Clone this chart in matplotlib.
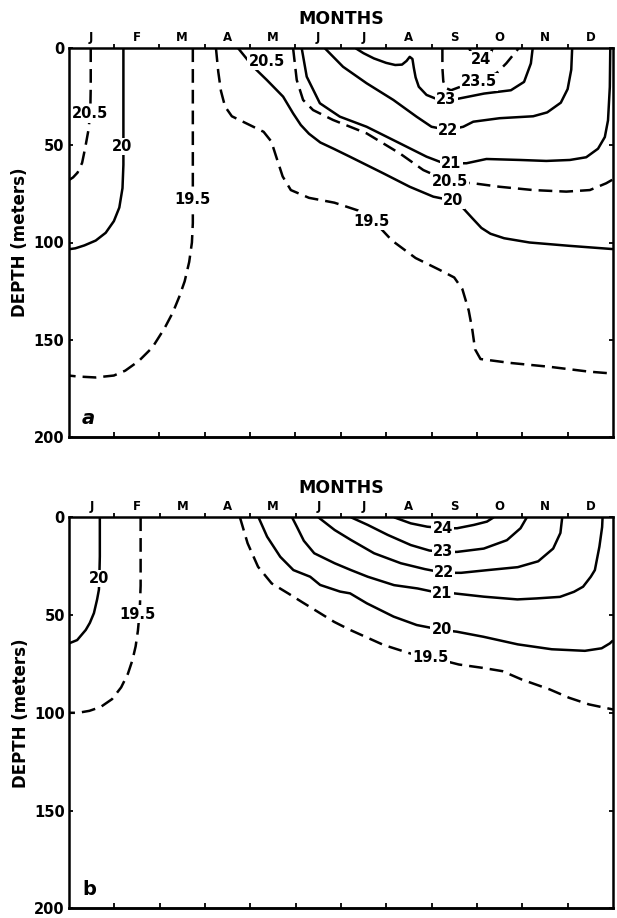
import matplotlib
matplotlib.use("Agg")
import matplotlib.pyplot as plt

plt.rcParams['font.family'] = ['DejaVu Sans']
plt.rcParams['font.weight'] = 'bold'

MONTH_LABELS = ['J', 'F', 'M', 'A', 'M', 'J', 'J', 'A', 'S', 'O', 'N', 'D']
DEPTH_TICKS = [0, 50, 100, 150, 200]

# isotherms: x in months from 1 Jan, depth in metres
# panel a
A_205_JAN_X = [0.49, 0.49, 0.48, 0.44, 0.37, 0.30, 0.20, 0.10, 0.0]
A_205_JAN_D = [0, 20, 33, 42, 51, 59, 64, 66.5, 68]
A_20_JAN_X = [1.21, 1.21, 1.21, 1.19, 1.12, 1.0, 0.82, 0.6, 0.35, 0.15, 0.0]
A_20_JAN_D = [0, 30, 60, 72, 82, 89, 95, 99, 101.5, 103, 103.5]
A_195_MAR_X = [2.74, 2.74, 2.74, 2.72, 2.66, 2.56, 2.44, 2.30, 2.12, 1.85, 1.55, 1.25, 1.0, 0.6, 0.2, 0.0]
A_195_MAR_D = [0, 40, 90, 100, 110, 120, 128, 136, 144, 154, 161, 166, 168.5, 169.5, 169, 168.5]
A_195_X = [3.25, 3.30, 3.36, 3.45, 3.60, 3.95, 4.30, 4.47, 4.58, 4.72, 4.90, 5.30, 5.86, 6.38, 6.71,
           6.85, 7.13, 7.65, 8.17, 8.50, 8.68, 8.82, 8.90, 8.96, 9.08, 9.73, 10.6, 11.47, 12.0]
A_195_D = [0, 12, 22, 30, 35, 39, 43, 48, 56, 66, 73, 77, 79.5, 83.5, 89.5,
           92, 99, 108, 114, 118, 124, 135, 145, 155, 160, 162, 164, 166.5, 167.5]
A_20_X = [3.74, 4.07, 4.37, 4.73, 4.95, 5.12, 5.30, 5.55, 5.85, 6.20, 6.94, 7.52, 8.04, 8.48, 8.70,
          8.90, 9.10, 9.30, 9.60, 10.16, 11.03, 12.0]
A_20_D = [0, 9.5, 16.3, 24.9, 33.5, 39.5, 44.0, 48.5, 51.8, 55.8, 64.4, 71.3, 76.4, 78.5, 82.4,
          87.5, 92.5, 95.5, 97.8, 100, 101.7, 103.4]
A_205_X = [4.95, 5.03, 5.17, 5.39, 5.83, 6.57, 7.30, 7.82, 8.40, 8.92, 9.50, 10.24, 10.97, 11.49, 11.85, 12.0]
A_205_D = [0, 16.3, 26.6, 31.8, 36.9, 43.8, 54.1, 62.7, 68.7, 69.5, 71.3, 73, 73.8, 73, 69.5, 67.5]
A_21_X = [5.14, 5.25, 5.54, 5.98, 6.57, 7.30, 7.89, 8.18, 8.44, 8.77, 9.21, 9.95, 10.53, 11.05,
          11.41, 11.67, 11.82, 11.89, 11.93, 11.94]
A_21_D = [0, 14.6, 28.3, 35.2, 40.4, 48.9, 55.8, 58.4, 59.2, 59.2, 57, 57.5, 58, 57.5,
          56.1, 51.7, 45.7, 37.1, 19.9, 0]
A_22_X = [5.65, 6.05, 6.57, 7.16, 7.67, 8.0, 8.37, 8.70, 8.92, 9.50, 10.24, 10.55, 10.85, 11.0, 11.08, 11.1]
A_22_D = [0, 9.5, 18, 26.6, 35.2, 40.4, 42.1, 40.4, 37.8, 36, 35, 33, 28, 21, 11, 0]
A_23_X = [6.33, 6.5, 6.73, 7.0, 7.2, 7.35, 7.45, 7.52, 7.58, 7.61, 7.65, 7.72, 7.89, 8.07, 8.33,
          8.6, 9.16, 9.75, 10.04, 10.19, 10.23]
A_23_D = [0, 2.5, 5.2, 7.5, 8.6, 8.4, 6.5, 4.4, 5.5, 10, 15, 19.8, 24, 25.7, 26.6,
          25.9, 23.3, 21.6, 17.3, 7.8, 0]
A_235_X = [8.24, 8.24, 8.26, 8.32, 8.43, 9.43, 9.65, 9.92]
A_235_D = [0, 10, 17, 20.5, 21.6, 12.9, 7.7, 0]
A_24_X = [8.83, 8.88, 8.95, 9.08, 9.22, 9.30, 9.35]
A_24_D = [0, 2.5, 4, 5, 4, 2.5, 0]

A_LABELS = ['20.5', '20', '19.5', '20.5', '24', '23.5', '23', '22', '21', '20.5', '20', '19.5']
A_LABEL_X = [0.48, 1.17, 2.74, 4.37, 9.08, 9.05, 8.33, 8.37, 8.44, 8.40, 8.48, 6.68]
A_LABEL_D = [33.8, 50.7, 77.8, 6.9, 6.0, 17.3, 26.6, 42.1, 59.2, 68.7, 78.3, 89.3]

# panel b
B_20_JAN_X = [0.68, 0.68, 0.67, 0.66, 0.62, 0.55, 0.46, 0.37, 0.18, 0.0]
B_20_JAN_D = [0, 20, 30, 37, 42, 49, 54, 57.6, 62.8, 64.5]
B_195_JAN_X = [1.58, 1.58, 1.56, 1.52, 1.47, 1.40, 1.30, 1.15, 0.95, 0.70, 0.45, 0.20, 0.0]
B_195_JAN_D = [0, 35, 48, 58, 66, 73, 80, 87, 93, 97, 99, 100, 100]
B_195_X = [3.77, 3.94, 4.17, 4.47, 4.84, 5.15, 5.5, 5.85, 6.20, 6.94, 7.52, 7.96, 8.6, 9.12, 9.56,
           9.99, 10.6, 11.03, 11.47, 12.0]
B_195_D = [0, 13.3, 25.3, 33.8, 39, 43.5, 48.5, 53.5, 57.6, 65.3, 69.6, 71.5, 75.3, 77, 78.7,
           83, 88, 92.3, 95.7, 98.3]
B_20_X = [4.18, 4.37, 4.66, 4.95, 5.32, 5.54, 5.98, 6.20, 6.57, 7.16, 7.67, 8.22, 8.55, 9.14,
          9.9, 10.65, 11.38, 11.75, 11.93, 12.0]
B_20_D = [0, 9.9, 20.2, 27, 30.4, 34.6, 38, 38.9, 44, 50.8, 55.1, 57.6, 58.5, 61.1,
          65, 67.5, 68.3, 67, 64.5, 63]
B_21_X = [4.92, 5.03, 5.18, 5.41, 5.86, 6.22, 6.59, 7.17, 7.69, 8.2, 8.49, 9.15, 9.89, 10.31,
          10.83, 11.14, 11.34, 11.51, 11.6, 11.7, 11.76, 11.77]
B_21_D = [0, 5, 12, 18.4, 23.5, 27, 30.4, 34.7, 36.4, 38.9, 38.9, 40.6, 42, 41.5,
          40.7, 38.1, 35.5, 30.4, 27, 15, 5, 0]
B_22_X = [5.5, 5.86, 6.22, 6.73, 7.32, 7.85, 8.27, 8.65, 9.24, 9.9, 10.35, 10.68, 10.84, 10.88]
B_22_D = [0, 6.5, 11.6, 18.4, 23.5, 26.5, 28.4, 28.4, 27, 25.5, 22.5, 16, 8, 0]
B_23_X = [6.22, 6.59, 7.03, 7.54, 7.95, 8.27, 8.56, 9.15, 9.66, 9.96, 10.1]
B_23_D = [0, 3.9, 9.0, 14.2, 17, 17.7, 17.7, 16, 11.7, 5.6, 0]
B_24_X = [7.17, 7.54, 7.9, 8.27, 8.56, 8.93, 9.22, 9.37]
B_24_D = [0, 3.1, 4.8, 5.6, 5.6, 3.9, 2.2, 0]

B_LABELS = ['20', '19.5', '24', '23', '22', '21', '20', '19.5']
B_LABEL_X = [0.66, 1.50, 8.24, 8.26, 8.27, 8.24, 8.22, 7.98]
B_LABEL_D = [31.4, 49.5, 5.8, 17.6, 28.4, 38.9, 57.6, 71.8]

PANEL_A = [(20.5, A_205_JAN_X, A_205_JAN_D), (20, A_20_JAN_X, A_20_JAN_D),
           (19.5, A_195_MAR_X, A_195_MAR_D), (19.5, A_195_X, A_195_D),
           (20, A_20_X, A_20_D), (20.5, A_205_X, A_205_D), (21, A_21_X, A_21_D),
           (22, A_22_X, A_22_D), (23, A_23_X, A_23_D), (23.5, A_235_X, A_235_D),
           (24, A_24_X, A_24_D)]
PANEL_B = [(20, B_20_JAN_X, B_20_JAN_D), (19.5, B_195_JAN_X, B_195_JAN_D),
           (19.5, B_195_X, B_195_D), (20, B_20_X, B_20_D), (21, B_21_X, B_21_D),
           (22, B_22_X, B_22_D), (23, B_23_X, B_23_D), (24, B_24_X, B_24_D)]

W, H = 617, 918
fig = plt.figure(figsize=(W / 100, H / 100), dpi=100)
ax_a = fig.add_axes([68.5 / W, 1 - 436.7 / H, 544.5 / W, 388.4 / H])
ax_b = fig.add_axes([69 / W, 1 - 908.3 / H, 544 / W, 391 / H])


def draw_panel(ax, lines, labels, lx, ld, tag, tag_style):
    for level, xs, ds in lines:
        ls = (0, (5.5, 2.8)) if level % 1 else '-'
        ax.plot(xs, ds, color='black', lw=1.8, linestyle=ls, solid_capstyle='butt',
                solid_joinstyle='round', zorder=2)
    for s, x, d in zip(labels, lx, ld):
        ax.text(x, d, s, ha='center', va='center', fontsize=10.5, fontweight='bold', zorder=4,
                bbox=dict(boxstyle='square,pad=0.08', fc='white', ec='none'))
    ax.text(0.44, 190.5, tag, ha='center', va='center', fontsize=14, fontweight='bold',
            style=tag_style)

    ax.set_xlim(0, 12)
    ax.set_ylim(200, 0)
    ax.set_xticks(range(1, 12))
    ax.set_xticklabels([])
    ax.set_xticks([i + 0.5 for i in range(12)], minor=True)
    ax.set_xticklabels(MONTH_LABELS, minor=True, fontsize=8.5, fontweight='bold')
    ax.tick_params(axis='x', which='major', top=True, bottom=False, direction='out', length=3, width=1.3)
    ax.tick_params(axis='x', which='minor', top=True, bottom=False, labeltop=True, labelbottom=False,
                   length=0, pad=3)
    ax.secondary_xaxis('bottom').set_xticks(range(1, 12), labels=[])
    ax.set_yticks(DEPTH_TICKS)
    ax.set_yticklabels([str(t) for t in DEPTH_TICKS], fontsize=10.5, fontweight='bold')
    ax.tick_params(axis='y', direction='in', length=3, width=1.3, pad=3, right=True)
    for sp in ax.spines.values():
        sp.set_linewidth(1.8)
    ax.text(0.5, 1.062, 'MONTHS', transform=ax.transAxes, ha='center', va='baseline',
            fontsize=12.5, fontweight='bold')
    ax.set_ylabel('DEPTH (meters)', fontsize=12, fontweight='bold')
    ax.yaxis.set_label_coords(-0.072, 0.5)


draw_panel(ax_a, PANEL_A, A_LABELS, A_LABEL_X, A_LABEL_D, 'a', 'italic')
draw_panel(ax_b, PANEL_B, B_LABELS, B_LABEL_X, B_LABEL_D, 'b', 'normal')

for ax in (ax_a, ax_b):
    for sec in ax.child_axes:
        sec.tick_params(direction='in', length=3.5, width=1.3)
        sec.spines['bottom'].set_linewidth(1.8)

fig.savefig('out.png', dpi=100)
